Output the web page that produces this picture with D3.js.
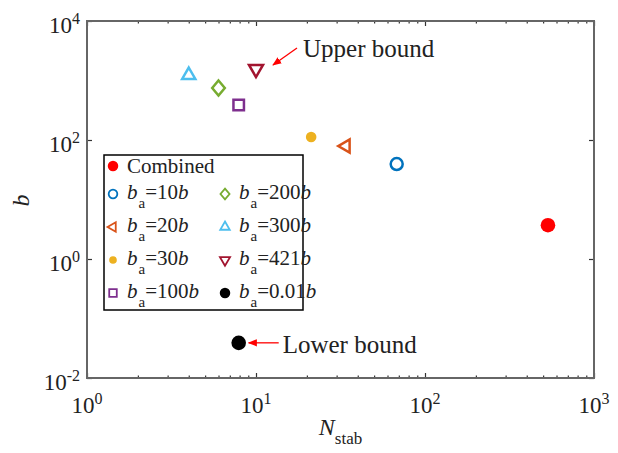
<!DOCTYPE html>
<meta charset="utf-8">
<style>
  body { margin: 0; background: #fff; }
  text { font-family: "Liberation Serif", "Times New Roman", serif; fill: #222; }
</style>
<body>
<div id="chart"></div>
<script src="https://d3js.org/d3.v7.min.js"></script>
<script>
// data
var names  = ["Combined", "10b", "20b", "30b", "100b", "200b", "300b", "421b", "0.01b"];
var nstab  = [534, 68, 34, 21.2, 7.9, 6.0, 4.0, 10.0, 7.9];
var bvals  = [3.7, 39.5, 79, 112, 387, 748, 1230, 1560, 0.039];
var colors = ["#ff0000", "#0072bd", "#d95319", "#edb120", "#7e2f8e", "#77ac30", "#4dbeee", "#a2142f", "#000000"];
var shapes = ["dot", "circle", "left", "smalldot", "square", "diamond", "up", "down", "dot"];
var xTicks = [0, 1, 2, 3];        // exponents
var yTicks = [-2, 0, 2, 4];

var W = 618, H = 453;
var margin = {top: 21, right: 24, bottom: 75, left: 87};
var width = W - margin.left - margin.right,
    height = H - margin.top - margin.bottom;

var svg = d3.select("#chart").append("svg")
    .attr("width", W).attr("height", H);
var g = svg.append("g")
    .attr("transform", "translate(" + margin.left + "," + margin.top + ")");

var x = d3.scaleLog().domain([1, 1000]).range([0, width]);
var y = d3.scaleLog().domain([0.01, 10000]).range([height, 0]);

// minor ticks for x
var minor = [];
for (var e = 0; e < 3; e++) for (var k = 2; k < 10; k++) minor.push(k * Math.pow(10, e));
var majorX = xTicks.map(function(p) { return Math.pow(10, p); });
var majorY = yTicks.map(function(p) { return Math.pow(10, p); });

function styleAxis(sel) {
  sel.select(".domain").remove();
  sel.selectAll("line").attr("stroke", "#333").attr("stroke-width", 1.2);
}
// bottom / top
g.append("g").attr("transform", "translate(0," + height + ")")
  .call(d3.axisBottom(x).tickValues(minor).tickSize(-2.5).tickFormat("")).call(styleAxis);
g.append("g").attr("transform", "translate(0," + height + ")")
  .call(d3.axisBottom(x).tickValues(majorX).tickSize(-5).tickFormat("")).call(styleAxis);
g.append("g")
  .call(d3.axisTop(x).tickValues(minor).tickSize(-2.5).tickFormat("")).call(styleAxis);
g.append("g")
  .call(d3.axisTop(x).tickValues(majorX).tickSize(-5).tickFormat("")).call(styleAxis);
// left / right
g.append("g")
  .call(d3.axisLeft(y).tickValues(majorY).tickSize(-5).tickFormat("")).call(styleAxis);
g.append("g").attr("transform", "translate(" + width + ",0)")
  .call(d3.axisRight(y).tickValues(majorY).tickSize(-5).tickFormat("")).call(styleAxis);

// box
g.append("rect").attr("x", 0).attr("y", 0).attr("width", width).attr("height", height)
  .attr("fill", "none").attr("stroke", "#666").attr("stroke-width", 2);

// tick labels
xTicks.forEach(function(p) {
  var t = g.append("text").attr("x", x(Math.pow(10, p))).attr("y", height + 35)
    .attr("text-anchor", "middle").style("font-size", "23px");
  t.append("tspan").text("10");
  t.append("tspan").attr("dy", -9).style("font-size", "16px").text(p);
});
yTicks.forEach(function(p) {
  var t = g.append("text").attr("x", -7).attr("y", y(Math.pow(10, p)) + 12)
    .attr("text-anchor", "end").style("font-size", "23px");
  t.append("tspan").text("10");
  t.append("tspan").attr("dy", -9).style("font-size", "16px").text(p);
});

// axis titles
var xl = g.append("text").attr("x", width / 2).attr("y", height + 57)
  .attr("text-anchor", "middle").style("font-size", "24px");
xl.append("tspan").style("font-style", "italic").text("N");
xl.append("tspan").attr("dy", 9).style("font-size", "17px").text("stab");

g.append("text").attr("transform", "translate(-58," + (height / 2 + 1) + ") rotate(-90)")
  .attr("text-anchor", "middle").style("font-size", "24px").style("font-style", "italic").text("b");

// markers
function marker(sel, shape, color, s) {
  if (shape === "dot" || shape === "smalldot") {
    sel.append("circle").attr("r", (shape === "dot" ? 7.3 : 5.3) * s)
      .attr("fill", color);
    return;
  }
  var sw = 2.5 * s;
  if (shape === "circle") {
    sel.append("circle").attr("r", 6 * s).attr("fill", "none")
      .attr("stroke", color).attr("stroke-width", sw);
    return;
  }
  var d, rot = 0;
  if (shape === "diamond") {
    var hw = 6.3 * s, hh = 7.5 * s;
    d = "M0," + (-hh) + "L" + hw + ",0L0," + hh + "L" + (-hw) + ",0Z";
  } else {
    var type = d3.symbolTriangle, size = 75;
    if (shape === "down") { rot = 180; size = 85; }
    if (shape === "left") { rot = -90; }
    if (shape === "square") { type = d3.symbolSquare; size = 110; }
    d = d3.symbol().type(type).size(size * s * s)();
  }
  sel.append("path").attr("d", d)
    .attr("transform", "rotate(" + rot + ")")
    .attr("fill", "none").attr("stroke", color).attr("stroke-width", sw)
    .attr("stroke-linejoin", "miter");
}

names.forEach(function(n, i) {
  var m = g.append("g").attr("transform", "translate(" + x(nstab[i]) + "," + y(bvals[i]) + ")");
  marker(m, shapes[i], colors[i], 1);
});

// annotations
var up = [x(nstab[7]), y(bvals[7])], lo = [x(nstab[8]), y(bvals[8])];
svg.append("defs").append("marker").attr("id", "ah").attr("viewBox", "0 0 10 10")
  .attr("refX", 9).attr("refY", 5).attr("markerWidth", 7).attr("markerHeight", 7)
  .attr("orient", "auto-start-reverse")
  .append("path").attr("d", "M0,1 L10,5 L0,9 Z").attr("fill", "#ff0000");
g.append("line").attr("x1", up[0] + 41).attr("y1", up[1] - 21).attr("x2", up[0] + 17).attr("y2", up[1] - 4)
  .attr("stroke", "#ff0000").attr("stroke-width", 1.3).attr("marker-end", "url(#ah)");
g.append("text").attr("x", up[0] + 47).attr("y", up[1] - 12).style("font-size", "25px").text("Upper bound");
g.append("line").attr("x1", lo[0] + 40).attr("y1", lo[1]).attr("x2", lo[0] + 10).attr("y2", lo[1])
  .attr("stroke", "#ff0000").attr("stroke-width", 1.3).attr("marker-end", "url(#ah)");
g.append("text").attr("x", lo[0] + 44).attr("y", lo[1] + 10).style("font-size", "25px").text("Lower bound");

// legend
var lg = g.append("g").attr("transform", "translate(17,134)");
lg.append("rect").attr("width", 199).attr("height", 155)
  .attr("fill", "#fff").attr("stroke", "#000").attr("stroke-width", 1.5);
names.forEach(function(n, i) {
  var col = i < 5 ? 0 : 1;
  var row = i < 5 ? i : i - 4;
  var mx = col === 0 ? 9 : 121;
  var my = row === 0 ? 11 : 39 + (row - 1) * 33;
  var m = lg.append("g").attr("transform", "translate(" + mx + "," + my + ")");
  marker(m, shapes[i], colors[i], 0.72);
  var t = lg.append("text").attr("x", mx + 14).attr("y", my + (row === 0 ? 7 : 5))
    .style("font-size", "21px");
  if (i === 0) { t.text(n); return; }
  t.append("tspan").style("font-style", "italic").text("b");
  t.append("tspan").attr("dy", 9).attr("dx", 1).style("font-size", "15px").text("a");
  t.append("tspan").attr("dy", -9).text("=" + n.slice(0, -1));
  t.append("tspan").style("font-style", "italic").text("b");
});
</script>
</body>
